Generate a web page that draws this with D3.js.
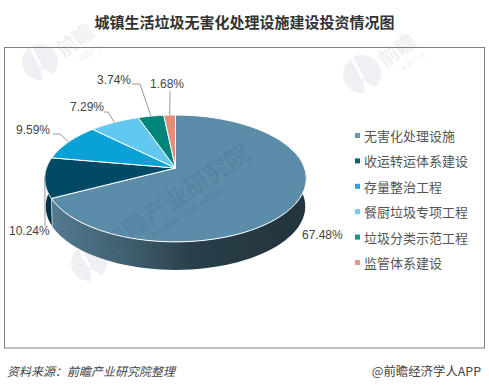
<!DOCTYPE html>
<html><head><meta charset="utf-8">
<script src="https://cdnjs.cloudflare.com/ajax/libs/d3/7.8.5/d3.min.js"></script>
<style>html,body{margin:0;background:#fff}svg{display:block}text{font-family:"Noto Sans CJK SC","Liberation Sans",sans-serif}</style>
</head><body><svg id="c" width="489" height="390"></svg>
<script>
const categories=["无害化处理设施","收运转运体系建设","存量整治工程","餐厨垃圾专项工程","垃圾分类示范工程","监管体系建设"];
const values=[67.48,10.24,9.59,7.29,3.74,1.68];
const labels=["67.48%","10.24%","9.59%","7.29%","3.74%","1.68%"];
const colors=["#5b8ca8","#004a66","#0aa1d6","#62c8f0","#00857a","#e58d78"];
const sideDark=["#24363f","#003247","#066f92","#438aa5","#005b54","#9d6153"];
const title="城镇生活垃圾无害化处理设施建设投资情况图";
const source="资料来源：前瞻产业研究院整理";
const credit="@前瞻经济学人APP";
const wmMain="前瞻产业研究院";
const wmSub="版权所有（股票 839599）";
const wmCorner="中国产业";

const svg=d3.select("#c");
const cx=175.5,cy=168,R=129,K=61.7,Q=0.165,depth=28;
const proj=(a,r=1,dy=0)=>{const u=Math.sin(a)*r,v=-Math.cos(a)*r,s=1/(1-Q*v);
  return [cx+u*R*s*(dy?0.992:1),cy+v*K*s+dy];};
const arcs=d3.pie().sort(null).value(d=>d)(values);
const defs=svg.append("defs");
const grad=defs.append("linearGradient").attr("id","side").attr("gradientUnits","userSpaceOnUse")
 .attr("x1",50).attr("x2",306).attr("y1",0).attr("y2",0);
[[0,"#537a91"],[0.3,"#41606f"],[0.55,"#2a3f4a"],[1,"#22343d"]].forEach(s=>grad.append("stop").attr("offset",s[0]).attr("stop-color",s[1]));
const line=d3.line();
const steps=(a0,a1)=>d3.range(0,61).map(i=>a0+(a1-a0)*i/60);
const pi=Math.PI;
// corner logos and watermarks, behind the pie
const wm="#eef0f4";
function logo(x,y,r){
  const g=svg.append("g").attr("transform",`translate(${x},${y}) rotate(-28)`);
  g.append("circle").attr("r",r).attr("fill",wm);
  g.append("rect").attr("x",-r*0.16).attr("y",-r-1).attr("width",r*0.16).attr("height",r*1.3).attr("fill","#fff");
  g.append("path").attr("d",line([[-r*0.1,r*0.3],[r*0.4,r*1.1],[-r*0.4,r*1.1]])+"Z").attr("fill","#fff");
}
logo(40,62,18);logo(362,74,19);logo(89,263,18);
function cornerWm(x,y){
  const g=svg.append("g").attr("transform",`translate(${x},${y}) rotate(-36)`);
  g.append("text").attr("font-size",20).attr("font-weight",700).attr("fill",wm).text("前瞻");
  g.append("text").attr("x",12).attr("y",14).attr("font-size",7).attr("fill",wm).text(wmCorner);
}
cornerWm(63,58);cornerWm(385,68);
// side walls, visible for the near half of the rim
const clipA=[pi/2-0.2,3*pi/2+0.2];
[arcs[1],arcs[0]].forEach(d=>{
  const a0=Math.max(d.startAngle,clipA[0]),a1=Math.min(d.endAngle,clipA[1]);
  if(a1<=a0)return;
  const t=steps(a0,a1);
  svg.append("path").attr("d",line([...t.map(a=>proj(a)),...t.slice().reverse().map(a=>proj(a,1,depth))])+"Z")
   .attr("fill",d.index===0?"url(#side)":sideDark[d.index]);
});
// seam between the two visible walls
const seam=proj(arcs[0].endAngle);
svg.append("path").attr("d",line([seam,proj(arcs[0].endAngle,1,depth)])).attr("stroke","#b9d0dc").attr("stroke-width",1).attr("fill","none");
// top faces
arcs.forEach(d=>{
  const pts=[[cx,cy],...steps(d.startAngle,d.endAngle).map(a=>proj(a))];
  svg.append("path").attr("d",line(pts)+"Z").attr("fill",colors[d.index])
   .attr("stroke","#fff").attr("stroke-width",1).attr("stroke-linejoin","round");
});
// watermark across the pie
const wg=svg.append("g").attr("transform","translate(110,253) rotate(-34)");
wg.append("text").attr("font-size",24.5).attr("font-weight",500).attr("fill","#1d3f5c").attr("opacity",.09).text(wmMain);
wg.append("text").attr("x",44).attr("y",13).attr("font-size",8).attr("fill","#1d3f5c").attr("opacity",.12).text(wmSub);
// leader lines and labels
const lab=[
 {x:302,y:239,pts:null},
 {x:9,y:235,pts:[[-1,-1],[45,213],[45,226]]},
 {x:16,y:134,pts:[[-1,-1],[60,134],[53,134]]},
 {x:70,y:111,pts:[[-1,-1],[108,112],[104,112]]},
 {x:97,y:84,pts:[[-1,-1],[140,84],[132,84]]},
 {x:150,y:88,pts:[[-1,-1],[170,91]]}
];
arcs.forEach((d,i)=>{
  const a=(d.startAngle+d.endAngle)/2,p=proj(a);
  if(lab[i].pts){const ps=lab[i].pts.slice();ps[0]=p;
   svg.append("path").attr("d",line(ps)).attr("fill","none").attr("stroke","#999").attr("stroke-width",1);}
  svg.append("text").attr("x",lab[i].x).attr("y",lab[i].y)
   .attr("font-size",12).attr("fill","#444").style("font-family","'Liberation Sans',sans-serif").text(labels[i]);
});
// frame
svg.append("rect").attr("x",4.5).attr("y",47.5).attr("width",480).attr("height",300.5)
 .attr("fill","none").attr("stroke","#808080").attr("stroke-width",1);
// legend
const ly=d3.scalePoint().domain(categories).range([136,263]);
categories.forEach((c,i)=>{
  const y=ly(c);
  svg.append("rect").attr("x",355).attr("y",y-3).attr("width",5).attr("height",5).attr("fill",colors[i]).attr("opacity",.9);
  svg.append("text").attr("x",364).attr("y",y+5).attr("font-size",13).attr("fill","#555").text(c);
});
svg.append("text").attr("x",244.5).attr("y",28).attr("text-anchor","middle").attr("font-size",15).attr("font-weight",700).attr("fill","#333").text(title);
svg.append("text").attr("x",7).attr("y",376).attr("font-size",12).attr("font-style","italic").attr("fill","#444").text(source);
svg.append("text").attr("x",481).attr("y",376).attr("text-anchor","end").attr("font-size",12.4).attr("fill","#444").text(credit);
</script></body></html>
